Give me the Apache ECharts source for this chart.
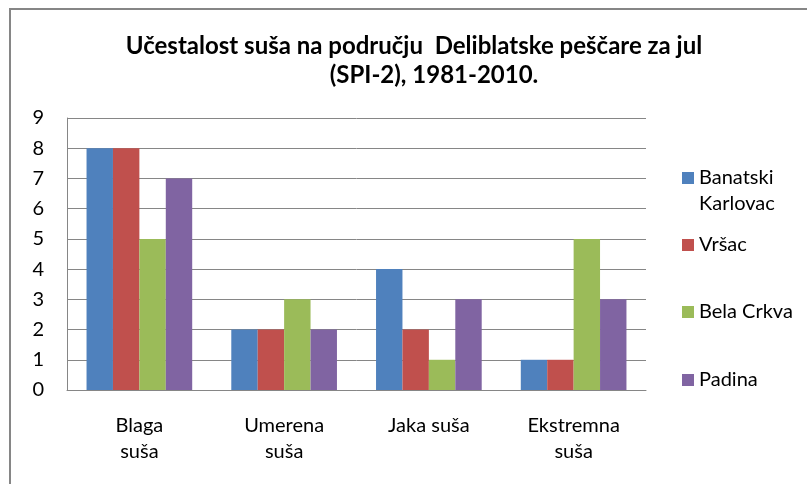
<!DOCTYPE html>
<html>
<head>
<meta charset="utf-8">
<script src="https://cdn.jsdelivr.net/npm/echarts@6/dist/echarts.min.js"></script>
<style>
  html, body { margin: 0; padding: 0; background: #fff; }
  #main { width: 807px; height: 484px; }
</style>
</head>
<body>
<div id="main"></div>
<script>
var categories = ['Blaga\nsuša', 'Umerena\nsuša', 'Jaka suša', 'Ekstremna\nsuša'];
var seriesNames = ['Banatski Karlovac', 'Vršac', 'Bela Crkva', 'Padina'];
var banatskiKarlovac = [8, 2, 4, 1];
var vrsac = [8, 2, 2, 1];
var belaCrkva = [5, 3, 1, 5];
var padina = [7, 2, 3, 3];
var colors = ['#4F81BD', '#C0504D', '#9BBB59', '#8064A2'];

var font = 'Lato';
var myChart = echarts.init(document.getElementById('main'));

// one legend per entry, so each one sits where it does in the picture
var legendCenters = [178, 245, 312, 380];
var legends = seriesNames.map(function (name, i) {
    var lg = {
        left: 682,
        top: legendCenters[i] - 13,
        padding: 0,
        icon: 'rect',
        itemWidth: 12,
        itemHeight: 12,
        data: [name],
        textStyle: { fontFamily: font, fontSize: 20, color: '#000', lineHeight: 26 }
    };
    if (i === 0) {
        // empty first line keeps "Banatski" level with the square
        lg.formatter = function () { return '\nBanatski\nKarlovac'; };
        lg.top = legendCenters[i] - 39;
    }
    return lg;
});

myChart.setOption({
    backgroundColor: '#fff',
    color: colors,
    animation: false,
    title: [{
        text: 'Učestalost suša na području  Deliblatske peščare za jul',
        left: 414,
        top: 32,
        padding: 0,
        textAlign: 'center',
        textStyle: { fontFamily: font, fontSize: 24, fontWeight: 'bold', color: '#000', lineHeight: 28 }
    }, {
        text: '(SPI-2), 1981-2010.',
        left: 434,
        top: 61,
        padding: 0,
        textAlign: 'center',
        textStyle: { fontFamily: font, fontSize: 24, fontWeight: 'bold', color: '#000', lineHeight: 28 }
    }],
    legend: legends,
    grid: { left: 67, top: 118, right: 161, bottom: 94 },
    xAxis: {
        type: 'category',
        data: categories,
        axisLine: { lineStyle: { color: '#868686', width: 1 } },
        axisTick: { show: false },
        axisLabel: { fontFamily: font, fontSize: 20, color: '#000', margin: 23, lineHeight: 26 }
    },
    yAxis: {
        type: 'value',
        min: 0,
        max: 9,
        interval: 1,
        axisLine: { show: true, lineStyle: { color: '#868686', width: 1 } },
        axisTick: { show: false },
        splitLine: { lineStyle: { color: '#868686', width: 1 } },
        axisLabel: { fontFamily: font, fontSize: 20, color: '#000', margin: 23 }
    },
    graphic: [{
        type: 'rect',
        shape: { x: 10, y: 9, width: 900, height: 600 },
        style: { fill: null, stroke: '#868686', lineWidth: 2 },
        silent: true
    }],
    series: [
        { name: seriesNames[0], type: 'bar', data: banatskiKarlovac, barGap: '0%', barCategoryGap: '27%' },
        { name: seriesNames[1], type: 'bar', data: vrsac, barGap: '0%', barCategoryGap: '27%' },
        { name: seriesNames[2], type: 'bar', data: belaCrkva, barGap: '0%', barCategoryGap: '27%' },
        { name: seriesNames[3], type: 'bar', data: padina, barGap: '0%', barCategoryGap: '27%' }
    ]
});
</script>
</body>
</html>
